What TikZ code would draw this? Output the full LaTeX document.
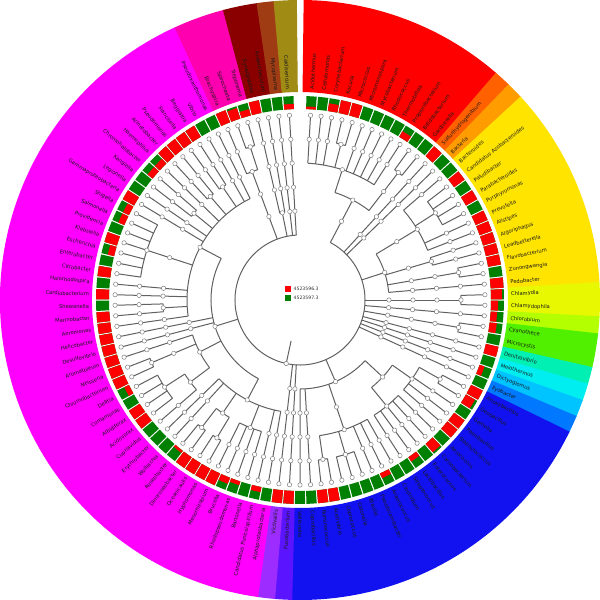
\documentclass[tikz,border=0pt]{standalone}
\usepackage{fontspec}
\setmainfont{DejaVu Sans}
\pgfdeclarelayer{fg}
\pgfsetlayers{main,fg}
\definecolor{sqr}{HTML}{FF0000}
\definecolor{sqg}{HTML}{008000}
\newcommand\mysect[5]{\fill[#1] (#2:#4) arc[start angle=#2,end angle=#3,radius=#4] -- (#3:#5) arc[start angle=#3,end angle=#2,radius=#5] -- cycle;}
\newcommand\ch[3]{%
 \pgfmathsetmacro\chA{90-(#1)*3.2727}%
 \pgfmathsetmacro\chR{65+24*(#2)}%
 \pgfmathsetmacro\chS{65+24*(#3)}%
 \draw[tree] (\chA:\chR) -- (\chA:\chS);%
 \begin{pgfonlayer}{fg}%
 \foreach \lv in {#2,...,#3}{\ifnum\lv>#2\relax \pgfmathsetmacro\chT{65+24*\lv}\node[dot] at (\chA:\chT) {};\fi}%
 \end{pgfonlayer}}
\newcommand\ar[3]{%
 \pgfmathsetmacro\arA{90-(#2)*3.2727}%
 \pgfmathsetmacro\arB{90-(#3)*3.2727}%
 \pgfmathsetmacro\arR{65+24*(#1)}%
 \draw[tree] (\arA:\arR) arc[start angle=\arA,end angle=\arB,radius=\arR];}
\tikzset{
 tree/.style={draw=black!62,line width=1pt},
 dot/.style={circle,draw=black!50,fill=white,line width=0.5pt,inner sep=0pt,minimum size=4.4pt},
 lab/.style={inner sep=0pt,font=\fontsize{5.2}{6}\selectfont,text=black!90},
 leg/.style={inner sep=0pt,anchor=west,font=\fontsize{4.6}{5}\selectfont,text=black!80}
}
\begin{document}
\begin{tikzpicture}[x=1pt,y=1pt]
\useasboundingbox (-300,-300) rectangle (300,300);
\fill[white] (-300,-300) rectangle (300,300);
% outer coloured wedges
\foreach \c/\i/\j in {FF0000/1/12,FF6000/13/13,FF9C00/14/14,FFE400/15/26,E8F800/27/28,B4FF00/29/29,50F000/30/31,00F0B4/32/32,00EEF0/33/33,00C4FF/34/34,0078FF/35/35,1212F0/36/55,5A14FF/56/56,9C2CFF/57/57,FF00FF/58/102,FF00B0/103/105,8A0000/106/107,A03C14/108/108,A08C14/109/109}{
 \definecolor{wc}{HTML}{\c}
 \pgfmathsetmacro\wa{\i==1 ? 89.3 : 90-(\i-0.5)*3.2727+0.15}
 \pgfmathsetmacro\wb{\j==109 ? -269.4 : 90-(\j+0.5)*3.2727}
 \mysect{wc}{\wa}{\wb}{208}{300}
}
% squares and labels
\foreach \nm/\f [count=\k] in {Acidothermus/0.2,Cellulomonas/0,Corynebacterium/0.6,Kocuria/1,Micrococcus/1,Micromonospora/0,Mycobacterium/0,Rhodococcus/0,Thermobifida/0,Propionibacterium/0.5,Bifidobacterium/0,Gardnerella/0,Sulfurihydrogenibium/1,Bacteria/0,Bacteroides/0,Candidatus Azobacteroides/1,Paludibacter/0,Parabacteroides/1,Porphyromonas/0,Prevotella/1,Alistipes/1,Algoriphagus/1,Leadbetterella/1,Flavobacterium/1,Zunongwangia/0,Pedobacter/1,Chlamydia/0.85,Chlamydophila/0.55,Chlorobium/0.5,Cyanothece/0.55,Microcystis/0,Denitrovibrio/1,Meiothermus/0,Dictyoglomus/0.4,Ilyobacter/0,Anoxybacillus/1,Geobacillus/0.8,Gemella/0,Paenibacillus/1,Staphylococcus/1,Aerococcus/0,Carnobacterium/0.85,Enterococcus/0,Lactobacillus/0.4,Streptococcus/0,Clostridium/0,Anaerococcus/0.4,Pseudoramibacter/0,Blautia/0,Catonella/0,Coprococcus/0,Acetivibrio/1,Ruminococcus/1,Coprobacillus/0,Veillonella/0,Fusobacterium/1,Victivallis/1,Alphaproteobacteria/0,Candidatus Puniceispirillum/0.4,Bartonella/0,Rhodopseudomonas/0.3,Brucella/0.5,Mesorhizobium/1,Hyphomonas/1,Oceanicaulis/1,Dinoroseobacter/1,Roseobacter/0.2,Wolbachia/0,Erythrobacter/0,Cupriavidus/0,Acidovorax/1,Albidiferax/1,Comamonas/0,Delftia/0.4,Chromobacterium/1,Neisseria/1,Aromatoleum/1,Desulfovibrio/1,Helicobacter/1,Aeromonas/1,Marinobacter/1,Shewanella/0,Cardiobacterium/1,Halorhodospira/0,Citrobacter/1,Enterobacter/0,Escherichia/0.5,Klebsiella/1,Providencia/0,Salmonella/0.5,Shigella/0.5,Gammaproteobacteria/1,Legionella/0,Kangiella/0,Chromohalobacter/0.5,Haemophilus/0.5,Acinetobacter/1,Pseudomonas/1,Francisella/1,Beggiatoa/1,Vibrio/0,Pseudoxanthomonas/0,Brachyspira/1,Spirochaeta/0.85,Treponema/0.5,Synergistetes/1,Anaerobaculum/0,Mycoplasma/0,Caldisericum/0.4}{
 \pgfmathsetmacro\ang{90-\k*3.2727}
 \pgfmathsetmacro\sa{\ang+1.45}
 \pgfmathsetmacro\sb{\ang-1.45}
 \mysect{sqg}{\sa}{\sb}{191}{204}
 \ifdim\f pt>0pt \pgfmathsetmacro\rmid{191+13*\f}\mysect{sqr}{\sa}{\sb}{191}{\rmid}\fi
 \ifdim\ang pt>-90.01pt
  \node[lab,rotate=\ang,anchor=west] (L\k) at (\ang:211) {\nm};
 \else
  \pgfmathsetmacro\rot{\ang+180}
  \node[lab,rotate=\rot,anchor=east] (L\k) at (\ang:211) {\nm};
 \fi
}
% ---------------- tree ----------------
\ch{1}{3}{5}\ch{2}{3}{5}\ch{3}{3}{5}\ch{4}{4}{5}\ch{5}{4}{5}\ar{4}{4}{5}\ch{4.5}{3}{4}
\ch{6}{3}{5}\ch{7}{3}{5}\ch{8}{3}{5}\ch{9}{3}{5}\ch{10}{3}{5}\ar{3}{1}{10}\ch{5.5}{2}{3}
\ch{11}{4}{5}\ch{12}{4}{5}\ar{4}{11}{12}\ch{11.5}{2}{4}
\ar{2}{5.5}{11.5}\ch{8.5}{0}{2}
\ch{13}{0}{5}
\ch{14}{0}{5}
\ch{15}{3}{5}\ch{16}{4}{5}\ch{17}{4}{5}\ch{18}{4}{5}\ch{19}{4}{5}\ar{4}{16}{19}\ch{17.5}{3}{4}
\ch{20}{3}{5}\ch{21}{3}{5}\ar{3}{15}{21}\ch{18}{1}{3}
\ch{22}{3}{5}\ch{23}{3}{5}\ar{3}{22}{23}\ch{22.5}{1}{3}
\ch{24}{4}{5}\ch{25}{4}{5}\ar{4}{24}{25}\ch{24.5}{1}{4}
\ch{26}{1}{5}
\ar{1}{18}{26}\ch{22}{0}{1}
\ch{27}{4}{5}\ch{28}{4}{5}\ar{4}{27}{28}\ch{27.5}{0}{4}
\ch{29}{0}{5}
\ch{30}{4}{5}\ch{31}{4}{5}\ar{4}{30}{31}\ch{30.5}{0}{4}
\ch{32}{0}{5}\ch{33}{0}{5}\ch{34}{0}{5}\ch{35}{0}{5}
\ch{36}{4}{5}\ch{37}{4}{5}\ar{4}{36}{37}\ch{36.5}{3}{4}
\ch{38}{3}{5}\ch{39}{3}{5}\ch{40}{3}{5}\ar{3}{36.5}{40}\ch{38.25}{2}{3}
\ch{41}{3}{5}\ch{42}{3}{5}\ch{43}{3}{5}\ch{44}{3}{5}\ch{45}{3}{5}\ar{3}{41}{45}\ch{43}{2}{3}
\ar{2}{38.25}{43}\ch{40.625}{1}{2}
\ch{46}{3}{5}\ch{47}{3}{5}\ch{48}{3}{5}
\ch{49}{4}{5}\ch{50}{4}{5}\ch{51}{4}{5}\ar{4}{49}{51}\ch{50}{3}{4}
\ch{52}{4}{5}\ch{53}{4}{5}\ar{4}{52}{53}\ch{52.5}{3}{4}
\ar{3}{46}{52.5}\ch{49.25}{1}{3}
\ch{54}{1}{5}\ch{55}{1}{5}
\ar{1}{40.625}{55}\ch{47.8125}{0}{1}
\ch{56}{0}{5}\ch{57}{0}{5}
\ch{58}{2}{5}\ch{59}{2}{5}
\ch{60}{3}{5}\ch{61}{3}{5}\ch{62}{3}{5}\ch{63}{3}{5}\ar{3}{60}{63}\ch{61.5}{2}{3}
\ch{64}{4}{5}\ch{65}{4}{5}\ar{4}{64}{65}\ch{64.5}{3}{4}
\ch{66}{4}{5}\ch{67}{4}{5}\ar{4}{66}{67}\ch{66.5}{3}{4}
\ar{3}{64.5}{66.5}\ch{65.5}{2}{3}
\ch{68}{2}{5}\ch{69}{2}{5}
\ar{2}{58}{69}\ch{63.5}{1}{2}
\ch{70}{3}{5}\ch{71}{4}{5}\ch{72}{4}{5}\ch{73}{4}{5}\ch{74}{4}{5}\ar{4}{71}{74}\ch{72.5}{3}{4}
\ar{3}{70}{72.5}\ch{71.25}{2}{3}
\ch{75}{4}{5}\ch{76}{4}{5}\ar{4}{75}{76}\ch{75.5}{2}{4}
\ch{77}{2}{5}
\ar{2}{71.25}{77}\ch{74.125}{1}{2}
\ch{78}{1}{5}\ch{79}{1}{5}
\ch{80}{2}{5}
\ch{81}{3}{5}\ch{82}{3}{5}\ar{3}{81}{82}\ch{81.5}{2}{3}
\ch{83}{2}{5}\ch{84}{2}{5}
\ch{85}{4}{5}\ch{86}{4}{5}\ch{87}{4}{5}\ch{88}{4}{5}\ch{89}{4}{5}\ch{90}{4}{5}\ch{91}{4}{5}\ar{4}{85}{91}\ch{88}{2}{4}
\ch{92}{2}{5}\ch{93}{2}{5}
\ch{94}{3}{5}\ch{95}{3}{5}\ar{3}{94}{95}\ch{94.5}{2}{3}
\ch{96}{2}{5}
\ch{97}{3}{5}\ch{98}{3}{5}\ar{3}{97}{98}\ch{97.5}{2}{3}
\ch{99}{3}{5}\ch{100}{3}{5}\ar{3}{99}{100}\ch{99.5}{2}{3}
\ch{101}{2}{5}\ch{102}{2}{5}
\ar{2}{80}{102}\ch{91}{1}{2}
\ar{1}{63.5}{91}\ch{77.25}{0}{1}
\ch{103}{3}{5}\ch{104}{4}{5}\ch{105}{4}{5}\ar{4}{104}{105}\ch{104.5}{3}{4}\ar{3}{103}{104.5}\ch{103.75}{0}{3}
\ch{106}{1}{5}\ch{107}{1}{5}\ar{1}{106}{107}\ch{106.5}{0}{1}
\ch{108}{0}{5}\ch{109}{0}{5}
\ar{0}{8.5}{109}
\draw[tree] (-102.27:42) -- (-102.27:65);
\begin{pgfonlayer}{fg}\node[dot] (root) at (-102.27:65) {};\end{pgfonlayer}
% legend
\fill[sqr] (-15,8) rectangle (-9,14);
\fill[sqg] (-15,-1) rectangle (-9,5);
\node[leg] (l1) at (-6.5,11) {4523596.3};
\node[leg] (l2) at (-6.5,2) {4523597.3};
\end{tikzpicture}
\end{document}
